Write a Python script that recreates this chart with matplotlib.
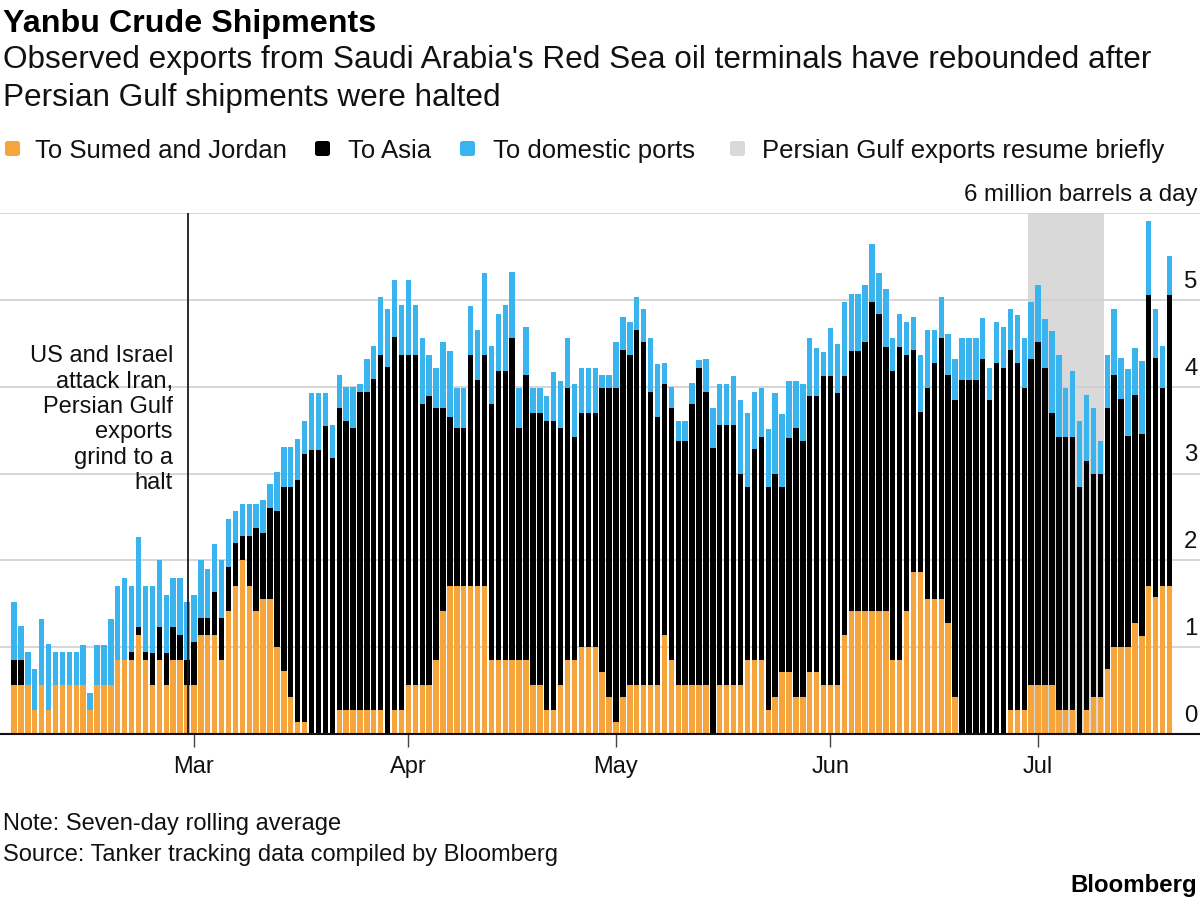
import numpy as np
import pandas as pd
import matplotlib
matplotlib.use('Agg')
import matplotlib.pyplot as plt
import matplotlib.transforms as mtransforms
from matplotlib.patches import FancyBboxPatch

plt.rcParams['font.family'] = ['Liberation Sans', 'DejaVu Sans']

# daily values, million barrels a day, starting 3 Feb
START = '2026-02-03'
sumed = [0.56, 0.56, 0.56, 0.28, 0.56, 0.28, 0.56, 0.56, 0.56, 0.56,
         0.56, 0.28, 0.56, 0.56, 0.56, 0.85, 0.85, 0.85, 1.14, 0.85,
         0.56, 0.85, 0.56, 0.85, 0.85, 0.56, 0.56, 1.14, 1.14, 1.14,
         0.85, 1.42, 1.71, 2.00, 1.71, 1.42, 1.56, 1.56, 1.00, 0.72,
         0.43, 0.14, 0.14, 0.00, 0.00, 0.00, 0.00, 0.28, 0.28, 0.28,
         0.28, 0.28, 0.28, 0.28, 0.00, 0.28, 0.28, 0.56, 0.56, 0.56,
         0.56, 0.85, 1.42, 1.71, 1.71, 1.71, 1.71, 1.71, 1.71, 0.85,
         0.85, 0.85, 0.85, 0.85, 0.85, 0.56, 0.56, 0.28, 0.28, 0.56,
         0.85, 0.85, 1.00, 1.00, 1.00, 0.71, 0.43, 0.14, 0.43, 0.56,
         0.56, 0.56, 0.56, 0.56, 1.14, 0.85, 0.56, 0.56, 0.56, 0.56,
         0.56, 0.00, 0.56, 0.56, 0.56, 0.56, 0.85, 0.85, 0.85, 0.28,
         0.43, 0.71, 0.71, 0.43, 0.43, 0.71, 0.71, 0.56, 0.56, 0.56,
         1.14, 1.42, 1.42, 1.42, 1.42, 1.42, 1.42, 0.85, 0.85, 1.42,
         1.86, 1.86, 1.56, 1.56, 1.56, 1.28, 0.43, 0.00, 0.00, 0.00,
         0.00, 0.00, 0.00, 0.00, 0.28, 0.28, 0.28, 0.56, 0.56, 0.56,
         0.56, 0.28, 0.28, 0.28, 0.00, 0.28, 0.43, 0.43, 0.75, 1.00,
         1.00, 1.00, 1.28, 1.13, 1.71, 1.58, 1.71, 1.71]
asia = [0.29, 0.29, 0.00, 0.00, 0.00, 0.00, 0.00, 0.00, 0.00, 0.00,
        0.00, 0.00, 0.00, 0.00, 0.00, 0.00, 0.00, 0.10, 0.09, 0.10,
        0.37, 0.38, 0.37, 0.38, 0.29, 0.29, 0.50, 0.20, 0.20, 0.49,
        0.49, 0.50, 0.49, 0.28, 0.57, 0.95, 0.76, 1.04, 1.57, 2.12,
        2.41, 2.79, 3.08, 3.27, 3.27, 3.55, 3.18, 3.48, 3.33, 3.24,
        3.66, 3.66, 3.81, 4.09, 4.23, 4.29, 4.09, 3.81, 3.81, 3.24,
        3.33, 2.91, 2.34, 1.94, 1.81, 1.81, 2.65, 2.37, 2.65, 2.95,
        3.33, 3.33, 3.71, 2.67, 3.28, 3.14, 3.14, 3.33, 3.33, 2.96,
        3.13, 2.57, 2.70, 2.70, 2.70, 3.27, 3.55, 3.84, 3.99, 3.81,
        4.09, 3.95, 3.38, 3.09, 2.89, 2.91, 2.81, 2.81, 3.24, 3.66,
        3.38, 3.29, 3.00, 3.00, 3.00, 2.43, 2.00, 2.43, 2.57, 2.57,
        2.56, 2.13, 2.70, 3.09, 2.94, 3.18, 3.18, 3.56, 3.56, 3.37,
        2.98, 2.99, 2.99, 3.09, 3.56, 3.42, 3.04, 3.33, 3.61, 2.95,
        2.56, 1.85, 2.43, 2.71, 3.00, 2.86, 3.42, 4.08, 4.08, 4.08,
        4.32, 3.85, 4.27, 4.22, 4.14, 3.99, 3.71, 3.76, 3.95, 3.66,
        3.14, 3.14, 3.14, 3.14, 2.85, 2.86, 2.56, 2.56, 3.00, 3.14,
        2.86, 2.43, 2.62, 2.32, 3.34, 2.75, 2.28, 3.34]
domestic = [0.67, 0.39, 0.39, 0.47, 0.76, 0.76, 0.39, 0.39, 0.39, 0.39,
            0.47, 0.19, 0.47, 0.47, 0.76, 0.86, 0.95, 0.76, 1.04, 0.76,
            0.78, 0.77, 0.67, 0.57, 0.66, 0.67, 0.54, 0.66, 0.56, 0.56,
            0.66, 0.56, 0.37, 0.37, 0.37, 0.28, 0.37, 0.28, 0.45, 0.47,
            0.47, 0.47, 0.38, 0.66, 0.66, 0.38, 0.38, 0.37, 0.39, 0.48,
            0.09, 0.38, 0.38, 0.66, 0.66, 0.66, 0.57, 0.86, 0.57, 0.76,
            0.47, 0.46, 0.76, 0.76, 0.46, 0.46, 0.57, 0.57, 0.95, 0.67,
            0.66, 0.76, 0.76, 0.46, 0.56, 0.28, 0.28, 0.28, 0.56, 0.55,
            0.58, 0.61, 0.52, 0.52, 0.52, 0.15, 0.15, 0.54, 0.38, 0.38,
            0.38, 0.38, 0.62, 0.61, 0.24, 0.24, 0.24, 0.24, 0.24, 0.09,
            0.38, 0.46, 0.47, 0.47, 0.56, 0.86, 0.85, 0.66, 0.56, 0.66,
            0.94, 0.85, 0.66, 0.55, 0.66, 0.67, 0.56, 0.28, 0.56, 0.56,
            0.85, 0.66, 0.66, 0.66, 0.66, 0.47, 0.66, 0.38, 0.38, 0.38,
            0.38, 0.66, 0.66, 0.38, 0.47, 0.47, 0.47, 0.48, 0.48, 0.48,
            0.47, 0.37, 0.47, 0.47, 0.47, 0.56, 0.57, 0.66, 0.66, 0.56,
            0.94, 0.94, 0.56, 0.76, 0.76, 0.76, 0.76, 0.38, 0.62, 0.76,
            0.47, 0.77, 0.54, 0.85, 0.86, 0.57, 0.48, 0.46]

month_ticks = ['2026-03-01', '2026-04-01', '2026-05-01', '2026-06-01', '2026-07-01']
month_labels = ['Mar', 'Apr', 'May', 'Jun', 'Jul']
y_labels = ['0', '1', '2', '3', '4', '5', '6 million barrels a day']
event_date = pd.Timestamp('2026-02-28 05:00')
resume_span = (pd.Timestamp('2026-06-29 14:00'), pd.Timestamp('2026-07-10 11:00'))

ORANGE = '#f6a43c'
BLUE = '#3ab4ef'
BLACK = '#000000'
SHADE = '#d9d9d9'

W, H = 1200, 903


def fx(px):
    return px / W


def fy(py):
    return 1 - py / H


fig = plt.figure(figsize=(12, 9.03), dpi=100)
ax = fig.add_axes([0, fy(735), 1, (735 - 214) / H])

dates = pd.date_range(START, periods=len(sumed), freq='D')
s = np.array(sumed)
a = np.array(asia)
d = np.array(domestic)

bw = 0.78
ax.bar(dates, s, width=bw, color=ORANGE, zorder=2)
ax.bar(dates, a, width=bw, bottom=s, color=BLACK, zorder=2)
ax.bar(dates, d, width=bw, bottom=s + a, color=BLUE, zorder=2)

ax.axvspan(resume_span[0], resume_span[1], color=SHADE, zorder=0.3, lw=0)
ax.axvline(event_date, color='#1a1a1a', lw=1.3, zorder=3)

ax.set_xlim(dates[0] - pd.Timedelta(days=2.02), dates[0] + pd.Timedelta(days=171.4))
ax.set_ylim(0, 6)

ax.set_yticks(range(7))
ax.yaxis.grid(True, color='#cfcfcf', lw=1.2)
ax.set_axisbelow(True)
ax.tick_params(axis='y', length=0, labelleft=False)

ax.set_xticks(pd.to_datetime(month_ticks))
ax.set_xticklabels(month_labels)
ax.tick_params(axis='x', length=9, width=1, color='#444444', pad=6, labelsize=17,
               labelcolor='#111111')

for sp in ['left', 'right', 'top']:
    ax.spines[sp].set_visible(False)
ax.spines['bottom'].set_color('#111111')
ax.spines['bottom'].set_linewidth(1.5)
ax.spines['bottom'].set_zorder(4)

trans = mtransforms.blended_transform_factory(ax.transAxes, ax.transData)
for v, lab in enumerate(y_labels):
    ax.text(0.998, v + 0.22, lab, transform=trans, ha='right', va='center',
            fontsize=17.3, color='#111111')

ax.text(173 / W, 3.63, 'US and Israel\nattack Iran,\nPersian Gulf\nexports\ngrind to a\nhalt',
        transform=mtransforms.blended_transform_factory(fig.transFigure, ax.transData),
        ha='right', va='center', multialignment='right', fontsize=17,
        linespacing=1.2, color='#111111')

# header
fig.text(fx(3), fy(32), 'Yanbu Crude Shipments', fontsize=23.2, fontweight='bold',
         va='baseline', ha='left', color='#000000')
fig.text(fx(3), fy(68), "Observed exports from Saudi Arabia's Red Sea oil terminals have rebounded after",
         fontsize=22.7, va='baseline', ha='left', color='#111111')
fig.text(fx(3), fy(106), 'Persian Gulf shipments were halted',
         fontsize=22.7, va='baseline', ha='left', color='#111111')

# legend
legend_items = [(5, 35, ORANGE, 'To Sumed and Jordan'),
                (315, 348, BLACK, 'To Asia'),
                (460, 493, BLUE, 'To domestic ports'),
                (730, 762, SHADE, 'Persian Gulf exports resume briefly')]
for sx, tx, col, lab in legend_items:
    box = FancyBboxPatch((fx(sx), fy(157)), 15 / W, 15 / H,
                         boxstyle='round,pad=0,rounding_size=0.0025',
                         transform=fig.transFigure, facecolor=col, edgecolor='none')
    fig.patches.append(box)
    fig.text(fx(tx), fy(158), lab, fontsize=18.5, va='baseline', ha='left', color='#111111')

# footer
fig.text(fx(3), fy(830), 'Note: Seven-day rolling average', fontsize=17,
         va='baseline', ha='left', color='#111111')
fig.text(fx(3), fy(861), 'Source: Tanker tracking data compiled by Bloomberg', fontsize=17,
         va='baseline', ha='left', color='#111111')
fig.text(fx(1197), fy(892), 'Bloomberg', fontsize=17.3, fontweight='bold',
         va='baseline', ha='right', color='#000000')

fig.savefig('out.png', dpi=100, facecolor='white')
